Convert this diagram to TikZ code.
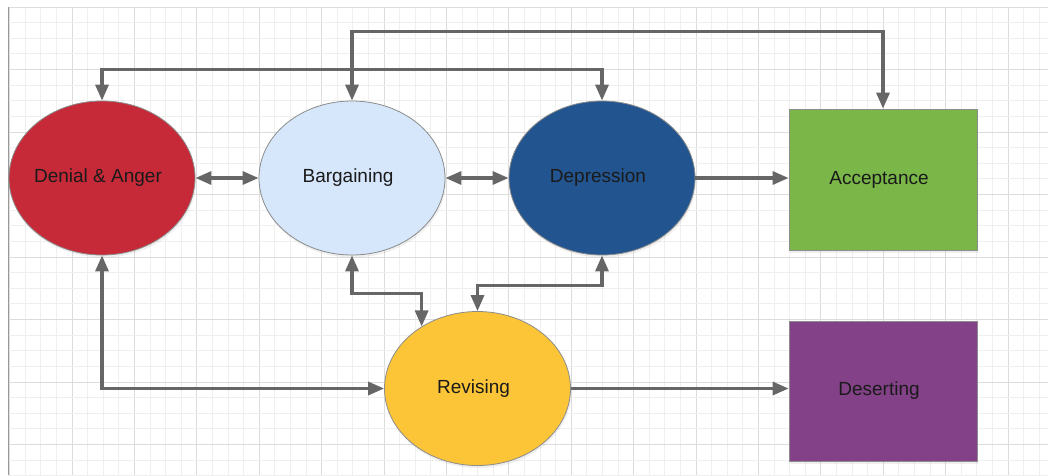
\documentclass[tikz,border=0pt]{standalone}
\usepackage{fontspec}
\setmainfont{Liberation Sans}
\usetikzlibrary{arrows.meta,shapes.geometric,shadows}
\definecolor{denialred}{HTML}{C62A38}
\definecolor{bargblue}{HTML}{D6E6FB}
\definecolor{depblue}{HTML}{22558F}
\definecolor{accgreen}{HTML}{7AB648}
\definecolor{revyellow}{HTML}{FBC537}
\definecolor{despurple}{HTML}{834187}
\definecolor{conngray}{HTML}{666666}
\definecolor{edgegray}{HTML}{8C8C8C}
\definecolor{gridminor}{HTML}{EFEFEF}
\definecolor{gridmajor}{HTML}{DCDCDC}
\definecolor{txt}{HTML}{1A1A1A}
\tikzset{
  softshadow/.style={drop shadow={opacity=0.12,shadow xshift=1pt,shadow yshift=-2.5pt}},
  stateell/.style={ellipse, draw=edgegray, line width=0.8pt, minimum width=186pt, minimum height=154pt,
    inner sep=0pt, text=txt, font=\fontsize{19}{22}\selectfont, softshadow},
  staterect/.style={rectangle, draw=edgegray, line width=0.8pt, minimum width=188pt, minimum height=141pt,
    inner sep=0pt, text=txt, font=\fontsize{19}{22}\selectfont, softshadow},
  conn/.style={draw=conngray, line width=3.2pt, >={Triangle[length=16pt,width=13pt]}},
  gminor/.style={draw=gridminor, line width=1pt},
  gmajor/.style={draw=gridmajor, line width=1pt}
}
\newcommand{\lbl}[1]{\makebox[0pt][c]{#1\kern8pt}}
\begin{document}
\begin{tikzpicture}[x=1pt,y=-1pt]
\useasboundingbox (0,0) rectangle (1048,475);
\fill[white] (0,0) rectangle (1048,475);
% grid
\begin{scope}
\clip (8,7) rectangle (1048,475);
\foreach \i in {0,...,67}{
  \pgfmathtruncatemacro{\m}{mod(\i,4)}
  \ifnum\m=0\relax
    \draw[gmajor] ({9.6+15.6*\i},7) -- ({9.6+15.6*\i},475);
  \else
    \draw[gminor] ({9.6+15.6*\i},7) -- ({9.6+15.6*\i},475);
  \fi
}
\foreach \j in {0,...,30}{
  \pgfmathtruncatemacro{\m}{mod(\j,4)}
  \ifnum\m=0\relax
    \draw[gmajor] (8,{7+15.625*\j}) -- (1048,{7+15.625*\j});
  \else
    \draw[gminor] (8,{7+15.625*\j}) -- (1048,{7+15.625*\j});
  \fi
}
\end{scope}
\draw[draw=gray!80, line width=1.2pt] (8.5,7) -- (8.5,475);
% nodes
\node[stateell, fill=denialred] (den) at (102,178) {\lbl{Denial \& Anger}};
\node[stateell, fill=bargblue] (bar) at (352,178) {\lbl{Bargaining}};
\node[stateell, fill=depblue] (dep) at (602,178) {\lbl{Depression}};
\node[stateell, fill=revyellow] (rev) at (477.5,388.5) {\lbl{Revising}};
\node[staterect, fill=accgreen] (acc) at (883,179.5) {\lbl{Acceptance}};
\node[staterect, fill=despurple, minimum height=140pt] (des) at (883,391) {\lbl{Deserting}};
% connectors
\draw[conn,<->] (den.north) -- ++(0,-31) -| (dep.north);
\draw[conn,<->] (bar.north) -- ++(0,-69) -| (acc.north);
\draw[conn,<->] (den.east) -- (bar.west);
\draw[conn,<->] (bar.east) -- (dep.west);
\draw[conn,->] (dep.east) -- (acc.west |- dep.east);
\draw[conn,<->] (bar.south) -- ++(0,38) -| (rev.132.8);
\draw[conn,<->] (dep.south) -- ++(0,30) -| (rev.north);
\draw[conn,<->] (den.south) |- (rev.west);
\draw[conn,->] (rev.east) -- (des.west |- rev.east);
\end{tikzpicture}
\end{document}
